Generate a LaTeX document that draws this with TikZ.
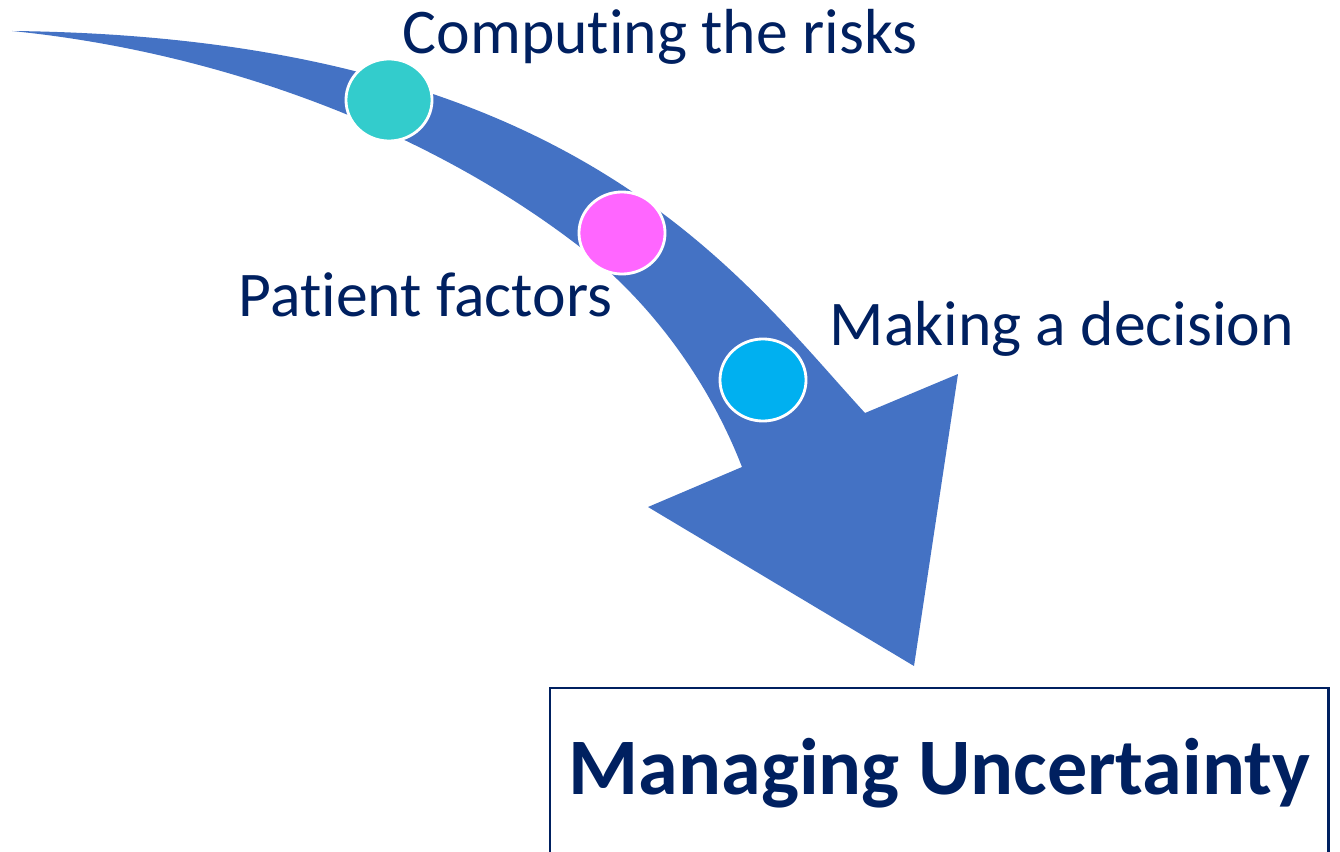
\documentclass[tikz,border=0pt]{standalone}
\usepackage{fontspec}
\setmainfont{Carlito}[Ligatures=NoCommon]
\usetikzlibrary{shapes.geometric}
\definecolor{arrowblue}{HTML}{4472C4}
\definecolor{navytext}{HTML}{002060}
\definecolor{dotteal}{HTML}{33CCCC}
\definecolor{dotpink}{HTML}{FF66FF}
\definecolor{dotcyan}{HTML}{00B0F0}

\begin{document}
\begin{tikzpicture}[x=0.01cm,y=-0.01cm,
    dot/.style={ellipse,draw=white,line width=0.8pt,minimum width=0.86cm,minimum height=0.82cm,inner sep=0pt},
    steplabel/.style={anchor=base west,inner sep=0pt,text=navytext,font=\fontsize{18.1}{21}\selectfont}]
  \useasboundingbox (0,0) rectangle (1340,852);
  % curved arrow
  \fill[arrowblue] (12,31) .. controls (572,37) and (735,271) .. (865,413)
    -- (958,374) -- (914,666) -- (648,507) -- (742,467)
    .. controls (709,382) and (652,303) .. (580,247)
    .. controls (422,125) and (212,51) .. (12,31) -- cycle;
  % dots on the arrow
  \node[dot,fill=dotteal] (risks) at (389,100) {};
  \node[dot,fill=dotpink] (patient) at (622,233) {};
  \node[dot,fill=dotcyan] (decision) at (763,380) {};
  % labels
  \node[steplabel] (risklabel) at (402,54) {Computing the risks};
  \node[steplabel] (patientlabel) at (238,317) {Patient factors};
  \node[steplabel] (decisionlabel) at (829,345) {Making a decision};
  % goal box
  \node[draw=navytext,line width=0.7pt,anchor=north west,minimum width=7.78cm,inner sep=0pt,
        text height=1.06cm,text depth=0.9cm,
        text=navytext,font=\fontsize{22.8}{27}\selectfont\bfseries] (goal) at (549,687) {Managing Uncertainty};
\end{tikzpicture}
\end{document}
